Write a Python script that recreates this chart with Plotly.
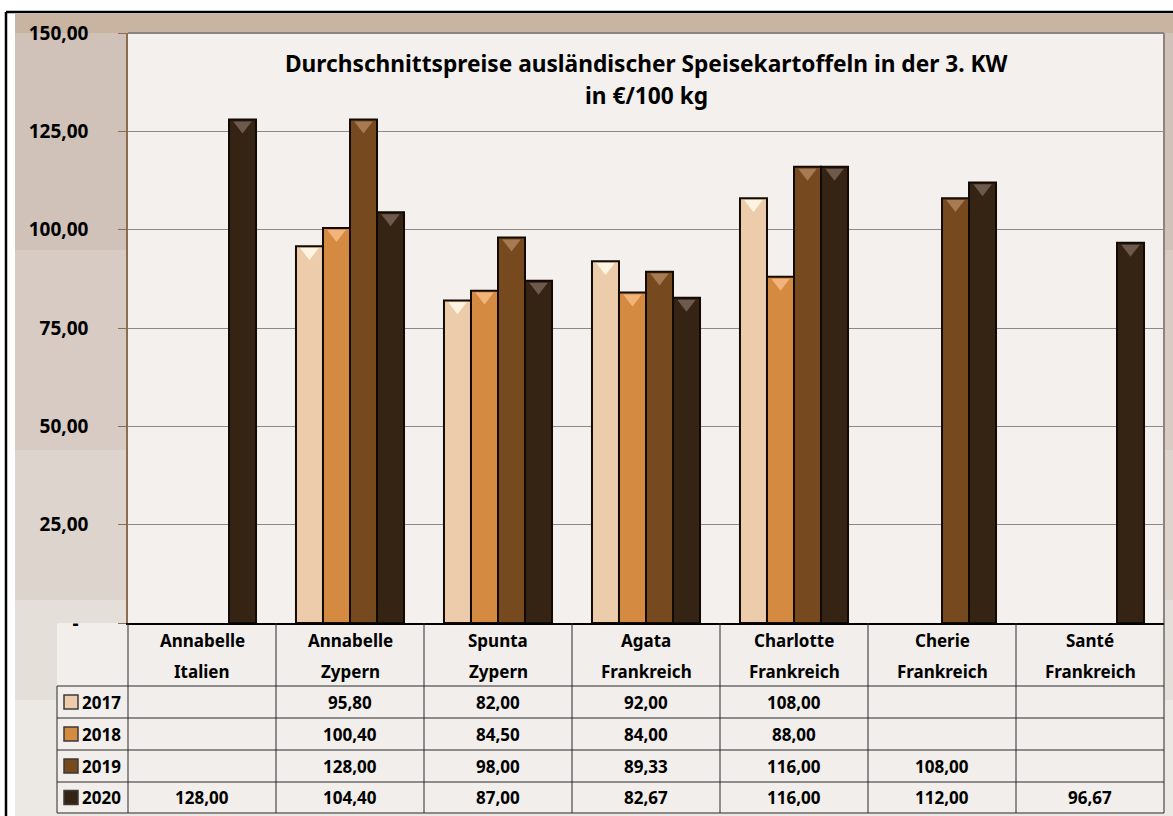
import plotly.graph_objects as go

# Daten
sorten = ["Annabelle", "Annabelle", "Spunta", "Agata", "Charlotte", "Cherie", "Santé"]
herkunft = ["Italien", "Zypern", "Zypern", "Frankreich", "Frankreich", "Frankreich", "Frankreich"]
jahre = ["2017", "2018", "2019", "2020"]
preise_2017 = [None, 95.80, 82.00, 92.00, 108.00, None, None]
preise_2018 = [None, 100.40, 84.50, 84.00, 88.00, None, None]
preise_2019 = [None, 128.00, 98.00, 89.33, 116.00, 108.00, None]
preise_2020 = [128.00, 104.40, 87.00, 82.67, 116.00, 112.00, 96.67]
y_ticks = [0, 25, 50, 75, 100, 125, 150]

preise = [preise_2017, preise_2018, preise_2019, preise_2020]
farben = ["#ecccaa", "#d48a40", "#77491f", "#352313"]
spitzen = ["#fff4e2", "#f2b47a", "#a67a52", "#6e5a4c"]
kategorien = [f"{s} {h}" for s, h in zip(sorten, herkunft)]

FONT = "Noto Sans"

# Pixelraster der Zeichenfläche
BREITE, HOEHE = 1173, 816
L, R, T, B = 128, 1164, 33, 623
W, H = R - L, B - T


def px(x):
    return (x - L) / W


def py(y):
    return (B - y) / H


def fmt(v):
    return "" if v is None else f"{v:.2f}".replace(".", ",")


def text(t, x, y, size=17, xanchor="center"):
    return dict(text=f"<b>{t}</b>", xref="paper", yref="paper", x=x, y=y,
                xanchor=xanchor, yanchor="middle", showarrow=False,
                font=dict(family=FONT, size=size, color="black"))


def flaeche(x0, x1, y0, y1, farbe):
    return dict(type="rect", xref="paper", yref="paper", x0=px(x0), x1=px(x1), y0=py(y0), y1=py(y1),
                fillcolor=farbe, line=dict(width=0), layer="below")


fig = go.Figure()

for jahr, werte, farbe in zip(jahre, preise, farben):
    fig.add_trace(
        go.Bar(
            x=kategorien,
            y=werte,
            name=jahr,
            marker=dict(color=farbe, line=dict(color="#120a04", width=2)),
            hoverinfo="skip",
        )
    )

# helle Spitze oben auf jedem Balken
for jahr, werte, spitze in zip(jahre, preise, spitzen):
    fig.add_trace(
        go.Scatter(
            x=kategorien,
            y=[None if v is None else v - 1.5 for v in werte],
            mode="markers",
            marker=dict(symbol="triangle-down", size=16, color=spitze, line=dict(width=0)),
            hoverinfo="skip",
            showlegend=False,
        )
    )

shapes = [
    # Hintergrund (Foto nur angedeutet, nach unten heller)
    flaeche(15, 1190, 14, 250, "#d0c2b9"),
    flaeche(15, 1190, 250, 450, "#d7cbc3"),
    flaeche(15, 1190, 450, 600, "#ddd4cd"),
    flaeche(15, 1190, 600, 700, "#e5dfda"),
    flaeche(15, 1190, 700, 830, "#ece8e4"),
    flaeche(15, 1190, 14, 33, "#c9b3a1"),
    flaeche(L, R, T, B, "#f3f0ed"),
    flaeche(57, R, B, 813, "#f1eeeb"),
    # äußerer Rahmen
    dict(type="line", xref="paper", yref="paper", x0=px(6), x1=px(6), y0=py(12), y1=py(830),
         line=dict(color="black", width=2.5)),
    dict(type="line", xref="paper", yref="paper", x0=px(6), x1=px(1190), y0=py(12), y1=py(12),
         line=dict(color="black", width=2.5)),
    # Rand der Zeichenfläche oben/rechts
    dict(type="line", xref="paper", yref="paper", x0=0, x1=1, y0=1, y1=1,
         line=dict(color="#8a8580", width=2)),
    dict(type="line", xref="paper", yref="paper", x0=1, x1=1, y0=0, y1=1,
         line=dict(color="#8a8580", width=2)),
]

# Tabelle
zeilen = [686, 718, 750, 782, 813]
for yz in zeilen:
    shapes.append(dict(type="line", xref="paper", yref="paper", x0=px(57), x1=1, y0=py(yz), y1=py(yz),
                       line=dict(color="#2a2a2a", width=1)))
for i in range(len(kategorien) + 1):
    xs = L + i * W / len(kategorien)
    shapes.append(dict(type="line", xref="paper", yref="paper", x0=px(xs), x1=px(xs), y0=py(B), y1=py(813),
                       line=dict(color="#2a2a2a", width=1)))
shapes.append(dict(type="line", xref="paper", yref="paper", x0=px(57), x1=px(57), y0=py(686), y1=py(813),
                   line=dict(color="#2a2a2a", width=1)))

annotations = [
    text("Durchschnittspreise ausländischer Speisekartoffeln in der 3. KW", 0.5, py(64), size=22.7),
    text("in €/100 kg", 0.5, py(96), size=22.7),
]

for i, (s, h) in enumerate(zip(sorten, herkunft)):
    xc = (i + 0.5) / len(kategorien)
    annotations.append(text(s, xc, py(640)))
    annotations.append(text(h, xc, py(671)))

for j, (jahr, werte, farbe) in enumerate(zip(jahre, preise, farben)):
    yc = (zeilen[j] + zeilen[j + 1]) / 2
    shapes.append(dict(type="rect", xref="paper", yref="paper", x0=px(64), x1=px(78),
                       y0=py(yc - 7), y1=py(yc + 7), fillcolor=farbe,
                       line=dict(color="#3a3a3a", width=1.5)))
    annotations.append(text(jahr, px(80), py(yc), xanchor="left"))
    for i, v in enumerate(werte):
        if v is None:
            continue
        annotations.append(text(fmt(v), (i + 0.5) / len(kategorien), py(yc)))

fig.update_layout(
    width=BREITE,
    height=HOEHE,
    margin=dict(l=L, r=BREITE - R, t=T, b=HOEHE - B),
    paper_bgcolor="white",
    plot_bgcolor="#f3f0ed",
    barmode="group",
    bargap=0.27,
    bargroupgap=0,
    scattermode="group",
    scattergap=0.27,
    showlegend=False,
    shapes=shapes,
    annotations=annotations,
    font=dict(family=FONT, color="black"),
)

fig.update_xaxes(
    showticklabels=False,
    showgrid=False,
    showline=True,
    linecolor="black",
    linewidth=2,
    ticks="",
)

fig.update_yaxes(
    range=[0, 150],
    tickvals=y_ticks,
    ticktext=["-\u00a0\u00a0"] + [fmt(v) for v in y_ticks[1:]],
    tickfont=dict(family=FONT, size=19, color="black", weight="bold"),
    ticks="outside",
    ticklen=8,
    tickcolor="#8b6d50",
    ticklabelstandoff=26,
    showline=True,
    linecolor="#8b6d50",
    linewidth=1.5,
    gridcolor="#8c8885",
    gridwidth=1,
    zeroline=False,
)

# Seitenrand des Browsers entfernen, damit die Grafik bei (0,0) beginnt
fig.write_html(
    "out.html",
    config={"displayModeBar": False},
    post_script="document.body.style.margin='0';document.body.style.overflow='hidden';",
)
